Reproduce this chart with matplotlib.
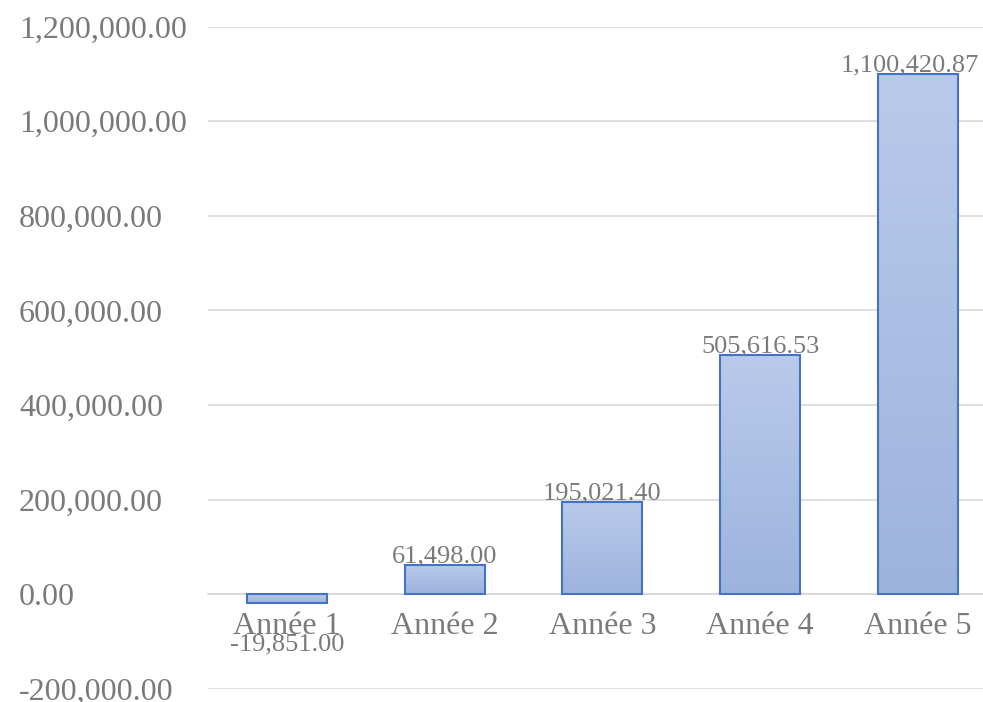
import numpy as np
import matplotlib.pyplot as plt
from matplotlib.colors import LinearSegmentedColormap
from matplotlib.ticker import FuncFormatter

# Chart data.
categories = ["Année 1", "Année 2", "Année 3", "Année 4", "Année 5"]
values = [-19851.00, 61498.00, 195021.40, 505616.53, 1100420.87]
y_ticks = [-200000, 0, 200000, 400000, 600000, 800000, 1000000, 1200000]

GRAY = "#7a7a7a"
EDGE = "#4472c4"

plt.rcParams['font.family'] = ['Liberation Serif', 'DejaVu Serif']

fig = plt.figure(figsize=(9.83, 7.02), dpi=100)
# The plot area runs slightly past the right edge of the picture.
ax = fig.add_axes([0.2116, 0.019, 0.8026, 0.943])

x = np.arange(len(categories))
width = 0.507

# Vertical gradient: lighter on top, darker at the bottom.
grad = np.linspace(0, 1, 256).reshape(-1, 1)
cmap = LinearSegmentedColormap.from_list("bar", ["#9cb3de", "#b9cbea"])

bars = ax.bar(x, values, width=width, color="none", edgecolor=EDGE,
              linewidth=1.5, zorder=3)
for b, v in zip(bars, values):
    x0 = b.get_x()
    y0, y1 = min(0, v), max(0, v)
    im = ax.imshow(grad, extent=[x0, x0 + width, y0, y1], origin="lower",
                   cmap=cmap, aspect="auto", zorder=2)
    im.set_clip_path(b)

# Data labels.
for i, v in enumerate(values):
    dx = -6 if i == len(values) - 1 else 0
    dy = 2 if v >= 0 else -34
    ax.annotate(f"{v:,.2f}", (x[i], v), xytext=(dx, dy), textcoords="offset points",
                ha="center", va="baseline", fontsize=19, color=GRAY, zorder=4)

ax.set_xlim(-0.5, len(categories) - 0.5)
ax.set_ylim(y_ticks[0], y_ticks[-1])
ax.set_yticks(y_ticks)
ax.yaxis.set_major_formatter(FuncFormatter(lambda v, p: f"{v:,.2f}"))
ax.set_xticks(x)
ax.set_xticklabels(categories)

ax.grid(axis="y", color="#d9d9d9", linewidth=1.2, zorder=0)
ax.set_axisbelow(True)
for s in ["top", "right", "left"]:
    ax.spines[s].set_visible(False)
ax.spines["bottom"].set_position(("data", 0))
ax.spines["bottom"].set_color("#d9d9d9")
ax.spines["bottom"].set_linewidth(1.2)
ax.tick_params(axis="y", length=0, pad=136, labelsize=23, labelcolor=GRAY)
ax.tick_params(axis="x", length=0, pad=13, labelsize=23, labelcolor=GRAY)
for lbl in ax.get_yticklabels():
    lbl.set_ha("left")

fig.savefig("out.png", dpi=100, facecolor="white")
plt.close()
